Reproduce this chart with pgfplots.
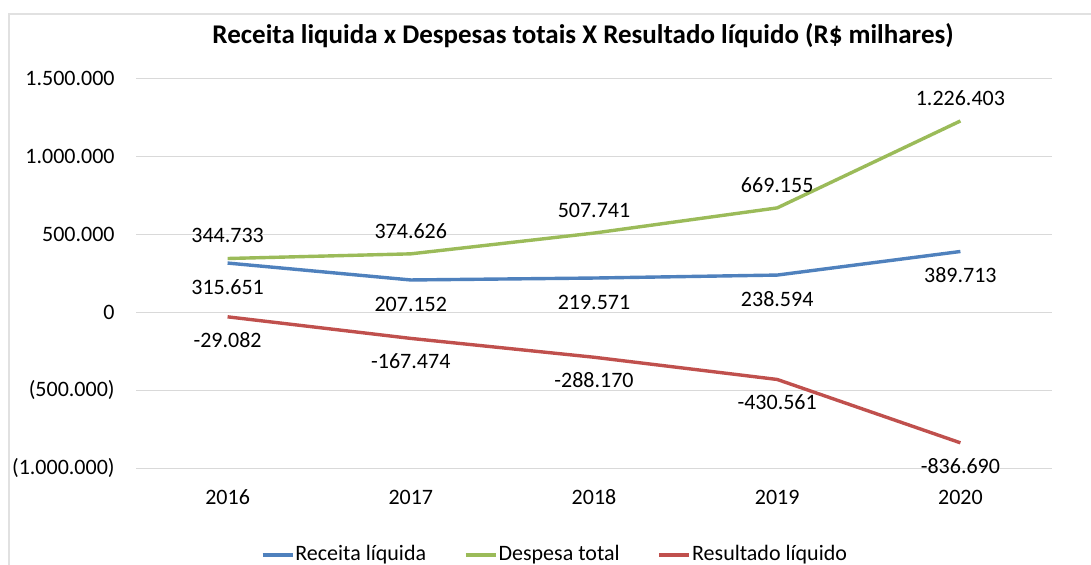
\documentclass[border=0pt]{standalone}
\usepackage{pgfplots}
\pgfplotsset{compat=1.18}
\usepackage{fontspec}
\setmainfont{Carlito}
\definecolor{cblue}{HTML}{4F81BD}
\definecolor{cgreen}{HTML}{9BBB59}
\definecolor{cred}{HTML}{C0504D}
\definecolor{cgrid}{HTML}{D9D9D9}
\begin{document}
\fontsize{11}{13}\selectfont
\begin{tikzpicture}
\useasboundingbox (0,0) rectangle (545.5pt,282.5pt);
\fill[white] (0,0) rectangle (545.5pt,282.5pt);
\draw[cgrid!80, line width=0.8pt] (4.5pt,-5pt) rectangle (560pt,275.5pt);
\node[font=\fontsize{13.5}{16}\selectfont\bfseries] at (291.5pt,264.5pt) {Receita liquida x Despesas totais X Resultado líquido (R\$ milhares)};
\begin{axis}[
  at={(68pt,48.35pt)}, anchor=south west,
  scale only axis, width=458pt, height=195pt,
  xmin=-0.5, xmax=4.5, ymin=-1000000, ymax=1500000,
  clip=false,
  axis line style={draw=none},
  tick style={draw=none},
  major tick length=0pt,
  ymajorgrids, grid style={cgrid, line width=0.7pt},
  xtick={0,1,2,3,4},
  xticklabels={2016,2017,2018,2019,2020},
  ytick={-1000000,-500000,0,500000,1000000,1500000},
  yticklabels={(1.000.000),(500.000),0,500.000,1.000.000,1.500.000},
  scaled y ticks=false,
  yticklabel style={anchor=east, inner sep=0pt, xshift=-10.5pt},
  xticklabel style={anchor=center, inner sep=0pt, yshift=-14.6pt},
  legend columns=3,
  legend style={at={(0.4569,-0.2222)}, anchor=center, draw=none, fill=none,
    column sep=0pt, nodes={inner xsep=0.5pt},
    /tikz/every even column/.append style={column sep=18.5pt}},
  legend image code/.code={\draw[#1] (0pt,0pt) -- (15pt,0pt);},
  every axis plot/.append style={line width=1.7pt, line join=round},
  point meta=explicit symbolic,
]
\addplot[color=cblue, mark=none, nodes near coords,
  every node near coord/.append style={anchor=center, yshift=-12pt, text=black}]
  coordinates {(0,315651)[315.651] (1,207152)[207.152] (2,219571)[219.571] (3,238594)[238.594] (4,389713)[389.713]};
\addlegendentry{Receita líquida}
\addplot[color=cgreen, mark=none, nodes near coords,
  every node near coord/.append style={anchor=center, yshift=11.5pt, text=black}]
  coordinates {(0,344733)[344.733] (1,374626)[374.626] (2,507741)[507.741] (3,669155)[669.155] (4,1226403)[1.226.403]};
\addlegendentry{Despesa total}
\addplot[color=cred, mark=none, nodes near coords,
  every node near coord/.append style={anchor=center, yshift=-11.5pt, text=black}]
  coordinates {(0,-29082)[-29.082] (1,-167474)[-167.474] (2,-288170)[-288.170] (3,-430561)[-430.561] (4,-836690)[-836.690]};
\addlegendentry{Resultado líquido}
\end{axis}
\end{tikzpicture}
\end{document}
